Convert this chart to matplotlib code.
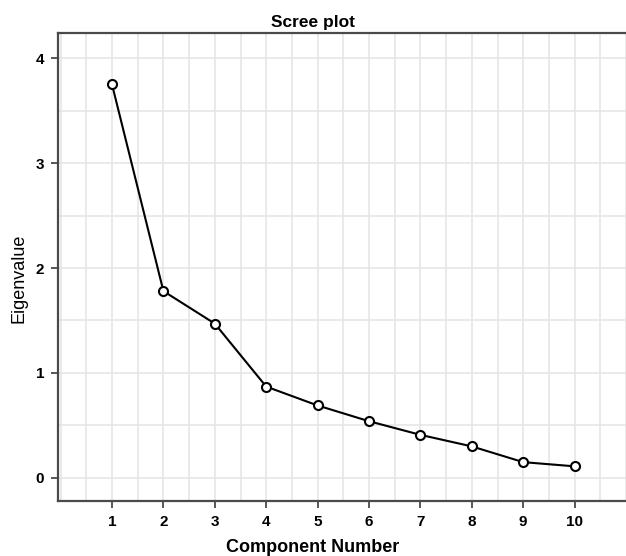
import matplotlib
matplotlib.use("Agg")
import matplotlib.pyplot as plt
from matplotlib.ticker import MultipleLocator

components = [1, 2, 3, 4, 5, 6, 7, 8, 9, 10]
eigenvalues = [3.75, 1.78, 1.47, 0.87, 0.69, 0.54, 0.41, 0.30, 0.15, 0.11]
y_ticks = [0, 1, 2, 3, 4]

plt.rcParams['font.family'] = ['Liberation Sans', 'DejaVu Sans']

fig = plt.figure(figsize=(6.26, 5.56), dpi=100)
ax = fig.add_axes([0.0927, 0.099, 0.9073, 0.8417])

ax.plot(components, eigenvalues, color='black', lw=1.5, marker='o',
        markersize=6.5, markerfacecolor='white', markeredgecolor='black',
        markeredgewidth=1.5, zorder=3)

ax.set_xlim(-0.05, 11.0)
ax.set_ylim(-0.22, 4.24)
ax.set_xticks(components)
ax.set_yticks(y_ticks)
ax.xaxis.set_minor_locator(MultipleLocator(0.5))
ax.yaxis.set_minor_locator(MultipleLocator(0.5))
ax.grid(which='both', color='#e6e6e6', lw=1.2)
ax.set_axisbelow(True)

for s in ['left', 'bottom', 'top']:
    ax.spines[s].set_color('#4a4a4a')
    ax.spines[s].set_linewidth(1.6)
ax.spines['right'].set_visible(False)

ax.tick_params(which='major', length=5, width=1.3, color='#4a4a4a', pad=5)
ax.tick_params(which='minor', length=0)
for lab in ax.get_xticklabels() + ax.get_yticklabels():
    lab.set_fontweight('bold')
    lab.set_fontsize(11)

fig.text(0.5, 0.96, 'Scree plot', ha='center', va='center',
         fontsize=12.5, fontweight='bold')
fig.text(0.5, 0.016, 'Component Number', ha='center', va='center',
         fontsize=13, fontweight='bold')
fig.text(0.03, 0.5, 'Eigenvalue', ha='center', va='center',
         rotation=90, fontsize=13)

fig.savefig('out.png', dpi=100)
